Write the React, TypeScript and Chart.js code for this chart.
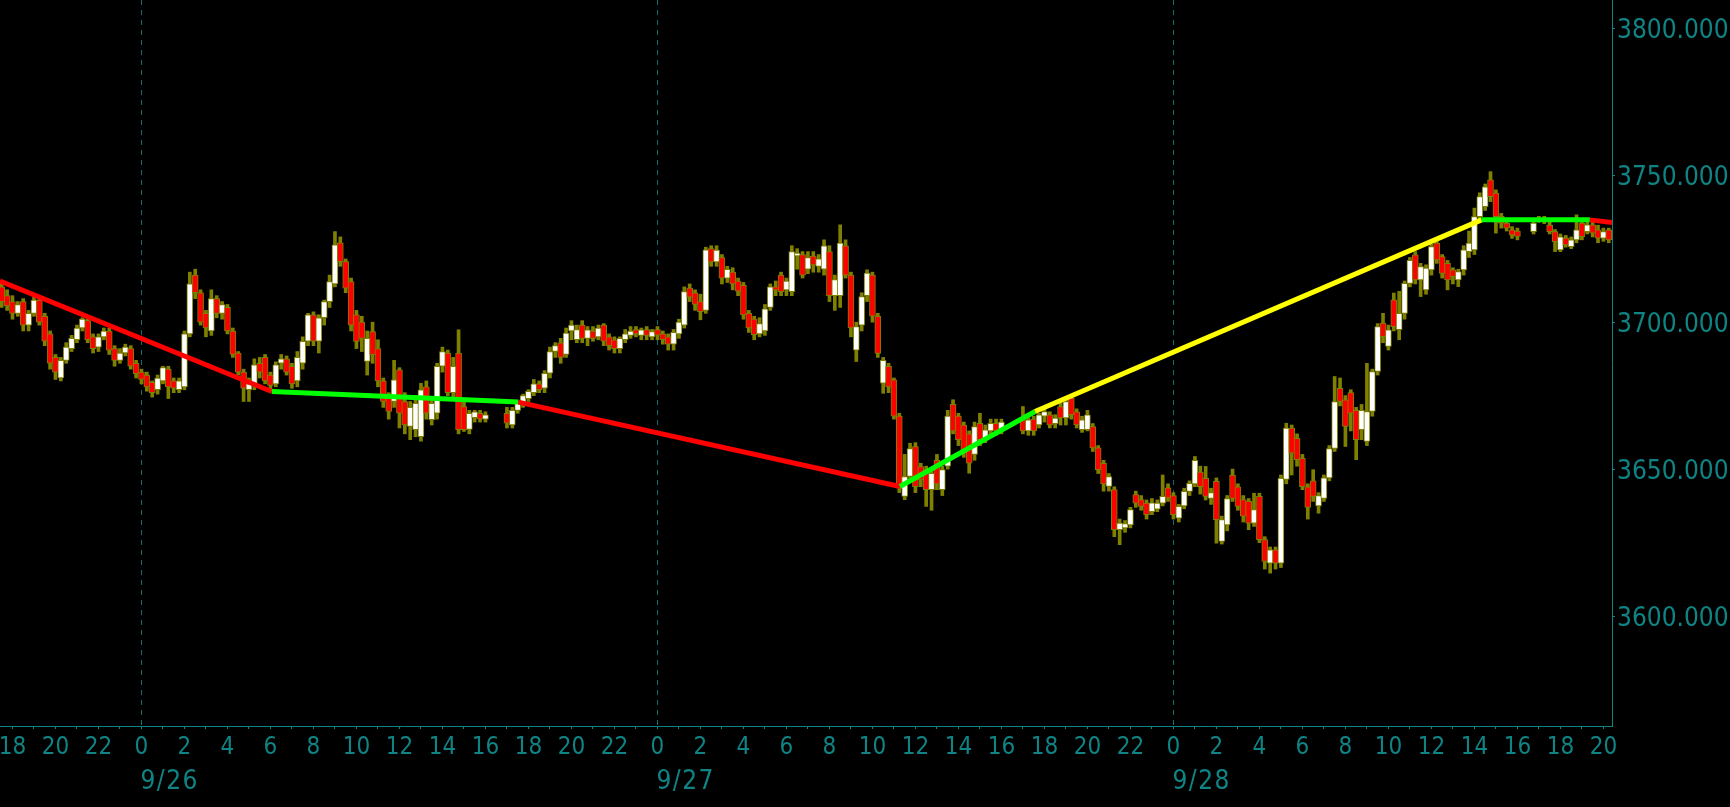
import React, { useEffect, useRef } from 'react';
import { Chart, registerables } from 'chart.js';

Chart.register(...registerables);

// Candles: [open, high, low, close], 15-minute slots, null = no trading
type Candle = [number, number, number, number] | null;

const slotHours = 0.25;

// 9/25 from 17:30 (hours relative to 9/26 00:00)
const sep25Start = -6.5;
const sep25: Candle[] = [
  [3712, 3714, 3705, 3707], [3709, 3711, 3704, 3705.5], [3707, 3709, 3701, 3703], [3703, 3707, 3702, 3706],
  [3707, 3708, 3697, 3699], [3699, 3704, 3697, 3703], [3703, 3708.5, 3702, 3707.5], [3707.5, 3708, 3699, 3700],
  [3702, 3703, 3692, 3693.5], [3696, 3697, 3684, 3686], [3688, 3689, 3680.5, 3683], [3681, 3688, 3680, 3687],
  [3687, 3693, 3686, 3691.5], [3691, 3695.5, 3690, 3694.5], [3694, 3699, 3693, 3698], [3698, 3701.5, 3697, 3701],
  [3700.5, 3701.5, 3693, 3694], [3695, 3696, 3689.5, 3691], [3691.5, 3696, 3690, 3695], [3695, 3698, 3694, 3697],
  [3697, 3698, 3689, 3690.5], [3691, 3692, 3685, 3687], [3687, 3691, 3686, 3689.5], [3689.5, 3692.5, 3688.5, 3691.5],
  [3691, 3692, 3684, 3685], [3686, 3687, 3681, 3682.5],
];

const sep26Start = 0;
const sep26: Candle[] = [
  [3683, 3684, 3679, 3680.5], [3682, 3683, 3676.5, 3678], [3679.5, 3680, 3674.5, 3676], [3677, 3682, 3675.5, 3681],
  [3680, 3685, 3679, 3684.5], [3684, 3685, 3674, 3678], [3680, 3681, 3676, 3677.5], [3677, 3681, 3676, 3680],
  [3678, 3697, 3677, 3696], [3696, 3717, 3695, 3713], [3716, 3718, 3708, 3710], [3710, 3711, 3699, 3700],
  [3703, 3704, 3695, 3698], [3697, 3711, 3695.5, 3708], [3708, 3709, 3701.5, 3703], [3703, 3707, 3701, 3706],
  [3705, 3706, 3696, 3697], [3697, 3698, 3688, 3689], [3689.5, 3690, 3682, 3683], [3683, 3684, 3673, 3677.5],
  [3677, 3681, 3673, 3679], [3679, 3687.5, 3677, 3685.5], [3686, 3688, 3681, 3683], [3688, 3689, 3679, 3680],
  [3682, 3683, 3677, 3678.5], [3679, 3686.5, 3678, 3685.5], [3686, 3689, 3684, 3687.5], [3687.5, 3688.5, 3682, 3683],
  [3685, 3686, 3677.5, 3679], [3680, 3690, 3678, 3688], [3686, 3695, 3684, 3693.5], [3693.5, 3703, 3692, 3702.5],
  [3702.5, 3703.5, 3692, 3693.5], [3693.5, 3702.5, 3689.5, 3701.5], [3701.5, 3707.5, 3699, 3707], [3707, 3716, 3705, 3713.8],
  [3713, 3730.8, 3712, 3726.3], [3727, 3729, 3719, 3720.6], [3720.6, 3721.5, 3710, 3711.6], [3713.8, 3715, 3697, 3699],
  [3702.5, 3704, 3691, 3693.4], [3700, 3702, 3690, 3694.5], [3686.6, 3697, 3682, 3694.5], [3696.8, 3700, 3686, 3688.9],
  [3691, 3694, 3678, 3680], [3680, 3681, 3671, 3673], [3675, 3676, 3667, 3669.6], [3673, 3687, 3671, 3680.4],
  [3683.8, 3684.5, 3664, 3669], [3673, 3676, 3662, 3665], [3664.5, 3673, 3660, 3671], [3663.4, 3675, 3661, 3672.4],
  [3661, 3679.2, 3659.5, 3677], [3678, 3680, 3667, 3669], [3666.8, 3673.5, 3665, 3672.4], [3669, 3686, 3667, 3685],
  [3685, 3691.5, 3683, 3690], [3689.5, 3690.5, 3675, 3676], [3676, 3688, 3674, 3685], [3689.5, 3697.4, 3662, 3663.4],
  [3671.3, 3673, 3662.8, 3663.4], [3663.5, 3670, 3662, 3669], [3667.5, 3670, 3666, 3669.5], [3669, 3670, 3666, 3667],
  [3667, 3669.5, 3666, 3668.5], null, null, null,
  [3669, 3671, 3664, 3665.6], [3665, 3671, 3664, 3670], [3670, 3673, 3669, 3672.4], [3672.4, 3675.5, 3671, 3675],
  [3674, 3677, 3673, 3676.5], [3676, 3680.5, 3675, 3679], [3679, 3680, 3676, 3677], [3677.5, 3683.5, 3676, 3682.6],
  [3682.6, 3691.5, 3681, 3690], [3690, 3693, 3688, 3692], [3693, 3694.5, 3686, 3688], [3689, 3698, 3688, 3696.3],
  [3697, 3700.5, 3694, 3699], [3694, 3699, 3693, 3697.5], [3699, 3700.5, 3693, 3694.5], [3694.5, 3698.5, 3692, 3697.4],
  [3697, 3698.5, 3693.5, 3694.5], [3695, 3699, 3694, 3698], [3699, 3699.5, 3692, 3693.5], [3695, 3696, 3690.5, 3692],
  [3694, 3695, 3689.5, 3691], [3691, 3695, 3689.5, 3694.5], [3694, 3697.5, 3693, 3696], [3695.5, 3698.5, 3694.5, 3697],
  [3697.5, 3698.5, 3695, 3696], [3695.5, 3698, 3694, 3697.4], [3697.5, 3698.5, 3694, 3695.5], [3695, 3697.5, 3694, 3696.8],
];

const sep27Start = 24;
const sep27: Candle[] = [
  [3697.5, 3698.5, 3694, 3695.6], [3696, 3697, 3692.5, 3694], [3695, 3696, 3690.5, 3692.5], [3692.5, 3697.5, 3690.5, 3696.5],
  [3696, 3701, 3694.5, 3700], [3699, 3712, 3698, 3710.4], [3711.6, 3713, 3707, 3708.5], [3710, 3711, 3704, 3706],
  [3707, 3709.5, 3700.8, 3703.6], [3704, 3725.5, 3703, 3724.6], [3725, 3726, 3719, 3720.5], [3720.5, 3726, 3719, 3724.5],
  [3722, 3723, 3713, 3715], [3715, 3719, 3713.5, 3718], [3717, 3718.5, 3711, 3713], [3714, 3715, 3709, 3710.5],
  [3712.5, 3713.5, 3701, 3702.5], [3703, 3704, 3696.5, 3698], [3701, 3702, 3694, 3695.7], [3696, 3701.5, 3695, 3699.5],
  [3697, 3706, 3695.5, 3704.5], [3705, 3713, 3704, 3712], [3712, 3714, 3709, 3711], [3716, 3717, 3709, 3710.4],
  [3711, 3715, 3709, 3714], [3710.4, 3726, 3709, 3724], [3722.5, 3725, 3718, 3723.5], [3723, 3724, 3715, 3716],
  [3718, 3724, 3716.5, 3722], [3722.5, 3724, 3717, 3719.5], [3719, 3723, 3717, 3721.5], [3718, 3728, 3716, 3726],
  [3724, 3726, 3707, 3709], [3709, 3716, 3704, 3714.5], [3709, 3733.1, 3705, 3726.9], [3726, 3728, 3715, 3716],
  [3716, 3717, 3695, 3698], [3690.5, 3700, 3686.6, 3698.5], [3699, 3710, 3697, 3708.7], [3709, 3717.8, 3707, 3716.7],
  [3716, 3717, 3700, 3702], [3702, 3703, 3688, 3689.4], [3679.2, 3688, 3675.8, 3687], [3685, 3686, 3676, 3678],
  [3680.4, 3681, 3667, 3668], [3668, 3669, 3642, 3644], [3640.7, 3655, 3639.6, 3647.5], [3647.5, 3658.8, 3646, 3657],
  [3657.7, 3659, 3642, 3644], [3650.9, 3652, 3644, 3646.4], [3649.8, 3651, 3637.3, 3643], [3643, 3650, 3636, 3648.6],
  [3653, 3655, 3643, 3645], [3643, 3651, 3641, 3649.8], [3651, 3670, 3650, 3668], [3672, 3673.6, 3662, 3663],
  [3668, 3669, 3658, 3660], [3665, 3666, 3654, 3655.5], [3662, 3663, 3648.6, 3652], [3655, 3666, 3653, 3664.5],
  [3665.6, 3669, 3658, 3660], [3660, 3665, 3659, 3663.4], [3663, 3667, 3661, 3665.6], [3665.6, 3667, 3661.5, 3663],
  [3663.5, 3667, 3662, 3666], null, null, null,
  [3666.8, 3671.3, 3662, 3663], [3663, 3667.5, 3661.5, 3666.8], [3667, 3668, 3661.5, 3663], [3665, 3669, 3664, 3668.5],
  [3668, 3670.5, 3666, 3669.6], [3668.5, 3669.5, 3664, 3665], [3665.5, 3668.5, 3664, 3667.4], [3671.3, 3672.5, 3665, 3667.4],
  [3667.4, 3674, 3665, 3673], [3674.2, 3674.7, 3667, 3668.5], [3669.5, 3670.5, 3664, 3665], [3663.4, 3668, 3662.5, 3666.8],
  [3663.4, 3670, 3663, 3668.5], [3664.5, 3665.5, 3656, 3657.2], [3657.2, 3658, 3648.5, 3649.8], [3652, 3653, 3642.5, 3645],
  [3644.1, 3648.5, 3642.5, 3647.5], [3643, 3644, 3627, 3629.4], [3629.4, 3633, 3624.3, 3631.6], [3630, 3632.5, 3628.5, 3631.5],
  [3631, 3637, 3630, 3636.2], [3641.3, 3642.5, 3637, 3638.4], [3639.6, 3641, 3636, 3637.3], [3638.4, 3639.5, 3633, 3634.5],
  [3635.5, 3640, 3634.5, 3638.5], [3636.4, 3639.5, 3635.5, 3638.4], [3638.4, 3648, 3637.5, 3640.7], [3643.6, 3645, 3639, 3640.2],
];

const sep28Start = 48;
const sep28: Candle[] = [
  [3641, 3642, 3633, 3634.5], [3633.3, 3638, 3632, 3637.3], [3637.5, 3643.5, 3636.5, 3642.4], [3642.4, 3646, 3641, 3645.2],
  [3645, 3654.3, 3644, 3653], [3649, 3651, 3641.5, 3644], [3646.9, 3650.9, 3639.5, 3640.7], [3640, 3643.5, 3638, 3642],
  [3645.8, 3647, 3624.8, 3632.8], [3625.4, 3634, 3624.5, 3632.8], [3631, 3641, 3629, 3640], [3648, 3650, 3639, 3640],
  [3644, 3645, 3636, 3637.3], [3639.6, 3641, 3632, 3634], [3639, 3640, 3629.4, 3631.6], [3631.6, 3641.8, 3630.5, 3636.2],
  [3640.7, 3641.8, 3625, 3626], [3626, 3627, 3616, 3618.6], [3618, 3623.5, 3614.6, 3622.5], [3622.5, 3623.5, 3616, 3618],
  [3618, 3648, 3616.5, 3646.9], [3646.5, 3665.6, 3645, 3664], [3664, 3665, 3648, 3655.4], [3660.5, 3662, 3651, 3653.2],
  [3653.7, 3655, 3643, 3644], [3644, 3645, 3633, 3637], [3646, 3649.8, 3639, 3640.7], [3637.5, 3642, 3635, 3641],
  [3640, 3648, 3639, 3647], [3647, 3658, 3646, 3657], [3657, 3681.5, 3656, 3673], [3677.5, 3681, 3671.5, 3673],
  [3673.6, 3675, 3657.7, 3664.5], [3676, 3677, 3663, 3669], [3670, 3671, 3653.2, 3660], [3663.4, 3672, 3660, 3670],
  [3659.4, 3686, 3658, 3669.6], [3669.6, 3684, 3668, 3683.2], [3683.2, 3699.5, 3682, 3698.5], [3699.7, 3703, 3693, 3695.1],
  [3691.7, 3699, 3690.5, 3697.4], [3707.6, 3709.9, 3697, 3698.5], [3697.4, 3710.5, 3694, 3703], [3703, 3714, 3701, 3713.2],
  [3713.2, 3722, 3712, 3721], [3722.9, 3724, 3713, 3714.4], [3714.4, 3720, 3708.7, 3718.9], [3711, 3719.5, 3709.5, 3718.4],
  [3717.8, 3726.5, 3716, 3725.7], [3726.9, 3728, 3720, 3721.2], [3722.3, 3723, 3715, 3716.6], [3720, 3721, 3711, 3714.4],
  [3717.8, 3718.5, 3713, 3715.5], [3714.4, 3718, 3712.1, 3717.2], [3717.8, 3726, 3716, 3724.6], [3724, 3731, 3722, 3726.9],
  [3724.6, 3738.8, 3723, 3735.9], [3735.9, 3744, 3734, 3742.7], [3739.3, 3747, 3738, 3746], [3748.4, 3751.2, 3741, 3742.7],
  [3743.9, 3745, 3730.3, 3735.9], [3736, 3737, 3732, 3733.7], [3733.7, 3734.5, 3731, 3732], [3731.4, 3732.5, 3728.5, 3729.7],
  [3731, 3732, 3728, 3729.2], null, null, [3730.8, 3735, 3730, 3733.7],
  [3734.5, 3736, 3734, 3735], [3735, 3736, 3733.5, 3734.5], [3733, 3734, 3730, 3730.8], [3730.8, 3731.5, 3724, 3727.4],
  [3724.6, 3730, 3724, 3729], [3728.6, 3729.5, 3725.5, 3726.3], [3725.7, 3729, 3725, 3728], [3728, 3736.5, 3727, 3731.4],
  [3733.7, 3735, 3728, 3729.1], [3730.8, 3734, 3730, 3733.1], [3733.1, 3734, 3729, 3730.3], [3731.4, 3733, 3727, 3728.6],
  [3728.6, 3732, 3727.5, 3730.8], [3731.4, 3732, 3727, 3728],
];

// Zigzag trend line (hours relative to 9/26 00:00)
const zzHours = [-6.58, 6.06, 17.53, 35.28, 41.56, 62.33, 67.37, 68.4];
const zzValues = [3714, 3676.4, 3672.8, 3644.1, 3669.6, 3734.8, 3734.8, 3733.9];
const zzColors = ['#ff0000', '#00ff00', '#ff0000', '#00ff00', '#ffff00', '#00ff00', '#ff0000'];

// Axes
const hourMin = -6.58;
const hourMax = 68.4;
const priceMin = 3562.6;
const priceMax = 3809.6;
const priceTicks = [3600, 3650, 3700, 3750, 3800];
const dayHours = [0, 24, 48];
const dayLabels = ['9/26', '9/27', '9/28'];

const TEAL = 'rgb(16,132,132)';
const GRID = 'rgb(10,110,110)';
const OLIVE = 'rgb(128,128,0)';
const FAMILY = "'DejaVu Sans Condensed', 'DejaVu Sans', sans-serif";
const X_FONT = 24;
const Y_FONT = 26;
const DATE_FONT = 26;

export default function App() {
  const canvasRef = useRef<HTMLCanvasElement | null>(null);

  useEffect(() => {
    const canvas = canvasRef.current;
    if (!canvas) return;

    const segments: [number, Candle[]][] = [
      [sep25Start, sep25],
      [sep26Start, sep26],
      [sep27Start, sep27],
      [sep28Start, sep28],
    ];
    const bodies: { x: number; y: [number, number] }[] = [];
    const wicks: { x: number; y: [number, number] }[] = [];
    const bodyColors: string[] = [];
    segments.forEach(([start, arr]) => {
      arr.forEach((c, i) => {
        if (!c) return;
        const x = start + i * slotHours;
        const [o, h, l, cl] = c;
        wicks.push({ x, y: [l, h] });
        bodies.push({ x, y: [o, cl] });
        bodyColors.push(cl >= o ? '#ffffff' : '#ff0000');
      });
    });
    const zz = zzHours.map((h, i) => ({ x: h, y: zzValues[i] }));

    const hourTicks: number[] = [];
    for (let h = Math.ceil(hourMin); h <= Math.floor(hourMax); h++) hourTicks.push(h);

    const bgPlugin = {
      id: 'bg',
      beforeDraw(chart: any) {
        const ctx = chart.ctx;
        ctx.save();
        ctx.fillStyle = '#000000';
        ctx.fillRect(0, 0, chart.width, chart.height);
        ctx.restore();
      },
    };
    const labelPlugin = {
      id: 'labels',
      afterDraw(chart: any) {
        const ctx = chart.ctx;
        const xs = chart.scales.x;
        const ys = chart.scales.y;
        ctx.save();
        ctx.fillStyle = TEAL;
        // price labels
        ctx.font = `${Y_FONT}px ${FAMILY}`;
        ctx.textAlign = 'left';
        ctx.textBaseline = 'alphabetic';
        priceTicks.forEach((v) => {
          ctx.fillText(v.toFixed(3), ys.left + 5, ys.getPixelForValue(v) + Y_FONT * 0.365 + 0.7);
        });
        // date labels
        ctx.font = `${DATE_FONT}px ${FAMILY}`;
        try {
          (ctx as any).letterSpacing = '1.5px';
        } catch (e) {
          /* ignore */
        }
        ctx.textBaseline = 'middle';
        dayHours.forEach((h, i) => {
          ctx.fillText(dayLabels[i], xs.getPixelForValue(h) - 1, 782);
        });
        ctx.restore();
      },
    };

    Chart.defaults.font.family = FAMILY;

    const chart = new Chart(canvas, {
      type: 'bar',
      data: {
        datasets: [
          {
            type: 'line',
            data: zz,
            borderColor: '#ff0000',
            borderWidth: 5,
            pointRadius: 0,
            tension: 0,
            order: 0,
            segment: {
              borderColor: (ctx: any) => zzColors[ctx.p0DataIndex],
            },
          } as any,
          {
            type: 'bar',
            data: bodies,
            backgroundColor: bodyColors,
            borderColor: OLIVE,
            borderWidth: 1,
            borderSkipped: false,
            barThickness: 6,
            grouped: false,
            order: 1,
          } as any,
          {
            type: 'bar',
            data: wicks,
            backgroundColor: OLIVE,
            borderWidth: 0,
            barThickness: 3,
            grouped: false,
            order: 2,
          } as any,
        ],
      },
      options: {
        animation: false,
        responsive: false,
        devicePixelRatio: 1,
        events: [],
        layout: { padding: 0 },
        plugins: { legend: { display: false }, tooltip: { enabled: false } },
        scales: {
          x: {
            type: 'linear',
            position: 'bottom',
            min: hourMin,
            max: hourMax,
            offset: false,
            afterFit(s: any) {
              s.height = 81;
              s.paddingLeft = 0;
              s.paddingRight = 0;
            },
            afterBuildTicks(s: any) {
              s.ticks = hourTicks.map((v) => ({ value: v }));
            },
            ticks: {
              autoSkip: false,
              maxRotation: 0,
              minRotation: 0,
              color: TEAL,
              padding: 4,
              font: { size: X_FONT, family: FAMILY },
              callback: (v: any) => {
                const n = Number(v);
                if (n % 2 !== 0) return '';
                return String(((n % 24) + 24) % 24);
              },
            },
            grid: {
              offset: false,
              color: (ctx: any) => (ctx.tick && ctx.tick.value % 24 === 0 ? GRID : 'rgba(0,0,0,0)'),
              tickColor: TEAL,
              tickLength: 3,
              lineWidth: 1,
            },
            border: { color: TEAL, width: 1, dash: [5, 5] },
          } as any,
          y: {
            type: 'linear',
            position: 'right',
            min: priceMin,
            max: priceMax,
            afterFit(s: any) {
              s.width = 118;
              s.paddingTop = 0;
              s.paddingBottom = 0;
            },
            afterBuildTicks(s: any) {
              s.ticks = priceTicks.map((v) => ({ value: v }));
            },
            ticks: {
              display: false,
            },
            grid: {
              drawOnChartArea: false,
              tickColor: TEAL,
              tickLength: 3,
            },
            border: { color: TEAL, width: 1 },
          } as any,
        },
      },
      plugins: [bgPlugin, labelPlugin],
    } as any);

    return () => chart.destroy();
  }, []);

  return (
    <div style={{ position: 'fixed', left: 0, top: 0, width: 1730, height: 807, background: '#000' }}>
      <canvas ref={canvasRef} width={1730} height={807} style={{ display: 'block', width: 1730, height: 807 }} />
    </div>
  );
}
